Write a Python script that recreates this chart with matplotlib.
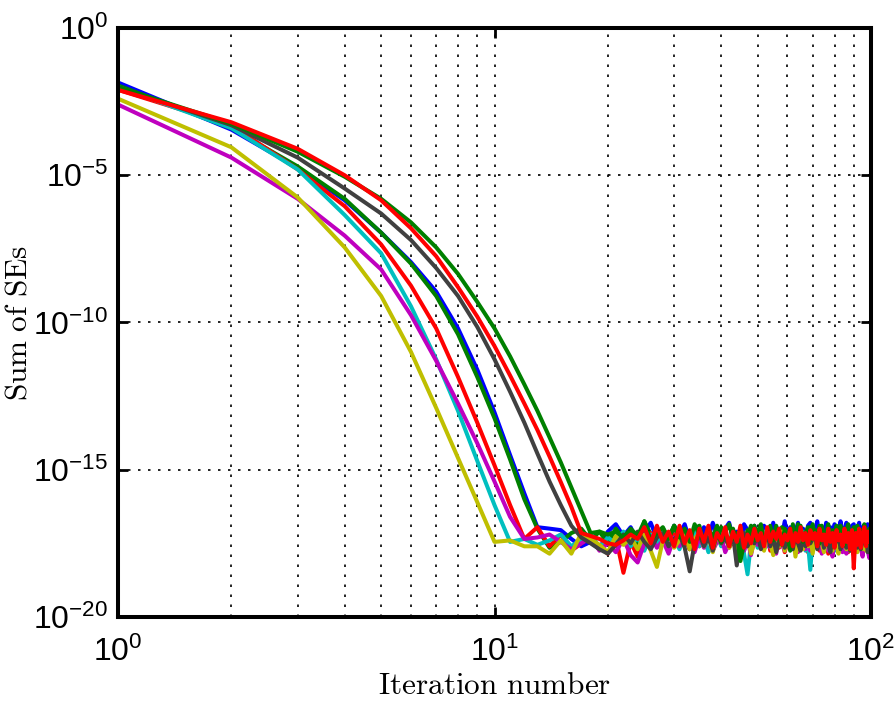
import numpy as np
import matplotlib
matplotlib.use('Agg')
import matplotlib.pyplot as plt
from matplotlib.ticker import FixedLocator, NullLocator, NullFormatter

plt.rcParams['font.family'] = ['Liberation Sans', 'DejaVu Sans']
plt.rcParams['mathtext.fontset'] = 'custom'
plt.rcParams['mathtext.rm'] = 'Liberation Sans'
plt.rcParams['mathtext.it'] = 'Liberation Sans:italic'

iterations = np.arange(1, 101)

# log10(sum of SEs) per iteration, ten iterations per row
blue = [-1.85, -3.45, -4.75, -5.85, -6.95, -7.95, -8.95, -10.2, -11.6, -13.05,
        -14.5, -15.8, -16.95, -17.0, -17.05, -17.35, -17.6, -17.45, -17.7, -17.1,
        -16.85, -17.25, -16.95, -17.45, -17.1, -16.8, -17.35, -17.0, -17.5, -16.9,
        -17.2, -16.85, -17.4, -17.05, -17.55, -16.95, -17.3, -16.8, -17.2, -17.45,
        -17.0, -16.8, -17.35, -17.1, -17.55, -16.85, -17.05, -17.4, -16.9, -17.25,
        -17.6, -16.9, -17.15, -17.35, -16.8, -17.45, -17.0, -17.25, -16.75, -17.3,
        -16.95, -17.5, -17.1, -16.8, -17.4, -17.0, -17.65, -16.9, -16.8, -17.35,
        -17.1, -16.75, -17.45, -17.0, -17.25, -16.8, -17.4, -16.95, -17.55, -16.85,
        -17.15, -17.35, -16.75, -17.45, -17.0, -16.8, -17.25, -17.5, -16.9, -16.85,
        -17.3, -17.05, -16.8, -17.4, -16.95, -17.6, -17.1, -16.85, -17.35, -17.0]

green2 = [-1.95, -3.4, -4.7, -5.8, -6.95, -8.0, -9.1, -10.4, -11.85, -13.25,
          -14.65, -16.0, -17.0, -17.65, -17.45, -17.15, -17.0, -17.4, -17.1, -17.5,
          -17.0, -17.35, -17.1, -17.6, -16.75, -17.2, -17.5, -17.0, -17.3, -16.9,
          -17.45, -17.15, -17.7, -17.0, -16.9, -17.5, -17.1, -17.6, -17.25, -16.95,
          -17.3, -17.6, -17.0, -17.45, -17.15, -17.75, -17.05, -17.4, -16.9, -17.35,
          -17.1, -17.65, -17.2, -16.9, -17.5, -17.05, -17.55, -16.95, -17.4, -17.2,
          -17.7, -17.0, -17.45, -16.85, -17.4, -17.1, -17.65, -17.2, -16.95, -17.5,
          -17.05, -17.55, -16.9, -17.4, -17.15, -17.7, -17.0, -17.45, -17.1, -17.3,
          -16.9, -17.6, -17.2, -17.45, -17.0, -17.35, -17.1, -17.7, -17.2, -17.5,
          -16.95, -17.4, -17.15, -17.65, -17.25, -16.9, -17.5, -17.1, -17.6, -17.3]

red2 = [-2.1, -3.3, -4.8, -6.05, -7.35, -8.75, -10.2, -11.85, -13.4, -14.85,
        -16.2, -17.35, -16.95, -17.6, -17.2, -17.75, -17.5, -17.3, -17.6, -17.85,
        -17.3, -18.5, -17.45, -17.95, -17.3, -17.15, -17.6, -17.35, -17.75, -17.2,
        -17.55, -17.3, -17.7, -17.2, -17.6, -17.4, -17.15, -17.75, -17.3, -17.55,
        -17.2, -17.65, -17.4, -17.8, -17.25, -17.55, -17.2, -17.7, -17.35, -17.6,
        -17.25, -17.55, -17.15, -17.75, -17.4, -17.2, -17.65, -17.3, -17.8, -17.45,
        -17.2, -17.6, -17.35, -17.7, -17.25, -17.5, -17.15, -17.8, -17.35, -17.6,
        -17.25, -17.55, -17.75, -17.2, -17.6, -17.35, -17.85, -17.3, -17.55, -17.2,
        -17.6, -17.35, -17.75, -17.25, -17.5, -17.2, -17.8, -17.4, -17.65, -17.3,
        -17.55, -17.75, -17.2, -17.6, -17.4, -17.25, -17.7, -17.5, -17.2, -17.6]

cyan = [-2.0, -3.4, -4.8, -6.35, -7.65, -9.45, -11.25, -13.0, -14.7, -16.2,
        -17.45, -17.35, -17.55, -17.4, -17.2, -17.6, -17.35, -17.15, -17.65, -17.3,
        -17.5, -17.1, -17.6, -17.3, -17.75, -17.2, -17.5, -17.1, -17.65, -17.35,
        -17.7, -17.2, -17.5, -17.05, -17.6, -17.3, -17.8, -17.4, -17.15, -17.6,
        -17.2, -17.55, -17.3, -17.7, -17.15, -17.85, -18.55, -17.45, -17.2, -17.65,
        -17.4, -17.1, -17.6, -17.3, -17.5, -17.75, -17.2, -17.6, -17.05, -17.5,
        -17.3, -17.7, -17.15, -17.6, -17.4, -17.1, -17.75, -17.5, -18.4, -17.3,
        -17.6, -17.2, -17.5, -17.05, -17.7, -17.4, -17.2, -17.65, -17.3, -17.75,
        -17.45, -17.1, -17.6, -17.3, -17.55, -17.15, -17.7, -17.4, -17.1, -17.6,
        -17.3, -17.55, -17.15, -17.7, -17.45, -17.05, -17.6, -17.3, -17.55, -17.2]

magenta = [-2.6, -4.4, -5.8, -7.05, -8.2, -9.75, -11.3, -12.75, -14.1, -15.4,
           -16.6, -17.35, -17.3, -17.2, -17.45, -17.7, -17.5, -17.3, -17.75, -17.5,
           -17.8, -17.35, -17.9, -18.15, -17.5, -17.25, -17.65, -17.4, -17.85, -17.3,
           -17.6, -17.25, -17.55, -17.8, -17.3, -17.65, -17.2, -17.75, -17.45, -17.25,
           -17.8, -17.5, -17.3, -17.7, -17.25, -17.75, -17.4, -17.9, -17.35, -17.55,
           -17.25, -17.7, -17.45, -17.65, -17.3, -17.85, -17.25, -17.55, -17.75, -17.35,
           -17.65, -17.4, -17.25, -17.8, -17.5, -17.3, -17.7, -17.2, -17.75, -17.45,
           -17.3, -17.65, -17.25, -17.85, -17.5, -17.35, -17.75, -17.4, -17.95, -17.5,
           -17.25, -17.65, -17.4, -17.8, -17.3, -17.85, -17.5, -17.25, -17.7, -17.9,
           -17.4, -17.75, -17.3, -17.65, -17.95, -17.45, -17.35, -17.75, -18.0, -17.6]

yellow = [-2.4, -4.05, -5.75, -7.45, -9.1, -11.0, -12.9, -14.6, -16.1, -17.45,
          -17.4, -17.6, -17.6, -17.85, -17.4, -17.85, -17.15, -17.35, -17.55, -17.8,
          -17.25, -17.55, -17.3, -17.7, -17.2, -17.75, -18.3, -17.4, -17.2, -17.65,
          -17.4, -17.1, -17.7, -17.35, -17.15, -17.6, -17.3, -17.8, -17.2, -17.5,
          -17.1, -17.65, -17.35, -17.75, -17.2, -17.55, -17.3, -17.85, -17.45, -17.15,
          -17.55, -17.75, -17.2, -17.5, -17.9, -17.3, -17.6, -17.1, -17.75, -17.35,
          -17.65, -17.2, -17.95, -17.45, -17.3, -17.7, -17.15, -17.6, -17.35, -17.85,
          -17.3, -17.65, -17.2, -17.5, -17.8, -17.35, -17.15, -17.6, -17.75, -17.3,
          -17.5, -17.85, -17.2, -17.6, -17.35, -17.7, -17.2, -17.75, -17.45, -17.3,
          -17.6, -17.8, -17.2, -17.5, -17.7, -17.3, -17.75, -17.35, -17.6, -17.45]

gray = [-2.0, -3.3, -4.4, -5.45, -6.3, -7.2, -8.15, -9.1, -10.15, -11.25,
        -12.35, -13.4, -14.45, -15.4, -16.2, -16.9, -17.3, -17.5, -17.7, -17.85,
        -17.55, -17.2, -17.5, -17.1, -17.45, -17.7, -17.3, -17.15, -17.6, -17.35,
        -17.2, -17.65, -18.45, -17.5, -17.2, -17.6, -17.3, -17.75, -17.15, -17.5,
        -17.3, -17.6, -17.2, -18.25, -17.4, -17.15, -17.6, -17.3, -17.5, -17.2,
        -17.7, -17.35, -17.2, -17.6, -17.3, -17.8, -17.4, -17.2, -17.65, -17.45,
        -17.3, -17.7, -17.2, -17.5, -17.75, -17.3, -17.6, -17.15, -17.5, -17.35,
        -17.2, -17.7, -17.4, -17.25, -17.65, -17.2, -17.5, -17.8, -17.3, -17.6,
        -17.35, -17.2, -17.7, -17.45, -17.25, -17.65, -17.2, -17.75, -17.4, -17.5,
        -17.3, -17.65, -17.2, -17.7, -17.35, -17.5, -17.2, -17.8, -17.45, -17.9]

green1 = [-2.0, -3.25, -4.2, -5.05, -5.8, -6.6, -7.45, -8.35, -9.3, -10.2,
          -11.15, -12.1, -13.0, -13.9, -14.75, -15.6, -16.4, -17.15, -17.1, -17.2,
          -17.1, -17.3, -17.0, -17.25, -16.75, -17.4, -17.15, -16.95, -17.35, -16.9,
          -17.3, -17.0, -17.45, -16.85, -17.2, -17.4, -17.0, -17.3, -16.9, -17.45,
          -17.1, -16.85, -17.35, -17.15, -18.1, -17.5, -17.25, -16.9, -17.4, -17.1,
          -16.85, -17.45, -17.2, -16.95, -17.4, -16.9, -17.3, -17.55, -17.0, -17.2,
          -17.75, -16.85, -17.35, -17.05, -16.9, -17.45, -17.15, -16.95, -17.4, -16.85,
          -17.3, -17.05, -17.5, -16.9, -17.35, -17.15, -16.85, -17.45, -17.05, -17.3,
          -16.95, -17.4, -16.9, -17.2, -17.55, -17.05, -16.85, -17.4, -17.15, -16.95,
          -17.45, -16.9, -17.3, -17.05, -17.4, -16.85, -17.2, -17.5, -17.0, -17.35]

red1 = [-2.1, -3.2, -4.1, -5.0, -5.85, -6.8, -7.75, -8.8, -9.8, -10.8,
        -11.8, -12.75, -13.65, -14.55, -15.42, -16.26, -17.15, -17.25, -17.35, -17.5,
        -17.55, -17.4, -17.2, -17.35, -16.95, -17.5, -16.9, -17.45, -17.1, -17.6,
        -16.9, -17.5, -17.05, -17.7, -17.0, -17.45, -16.9, -17.65, -17.15, -17.4,
        -16.95, -17.6, -17.1, -17.45, -16.9, -17.65, -17.2, -17.5, -17.0, -17.4,
        -17.15, -17.6, -16.95, -17.45, -17.1, -17.35, -17.0, -17.55, -17.2, -17.4,
        -17.0, -17.6, -17.15, -17.45, -16.95, -17.4, -17.15, -17.55, -17.05, -17.35,
        -17.15, -17.6, -17.0, -17.4, -17.2, -17.55, -17.0, -17.45, -17.15, -17.65,
        -17.05, -17.4, -17.2, -17.6, -17.0, -17.45, -17.15, -17.7, -17.05, -18.35,
        -17.15, -17.55, -17.0, -17.65, -17.25, -16.95, -17.6, -17.1, -17.45, -17.05]

series = [blue, green2, red2, cyan, magenta, yellow, gray, green1, red1]
colors = [(0, 0, 1), (0, 0.5, 0), (1, 0, 0), (0, 0.75, 0.75), (0.75, 0, 0.75),
          (0.75, 0.75, 0), (0.25, 0.25, 0.25), (0, 0.5, 0), (1, 0, 0)]

fig = plt.figure(figsize=(8.96, 7.02), dpi=100)
ax = fig.add_axes([0.1317, 0.1211, 0.8404, 0.839])

for vals, col in zip(series, colors):
    ax.plot(iterations, 10.0 ** np.array(vals), color=col, lw=2.9)

ax.set_xscale('log')
ax.set_yscale('log')
ax.set_xlim(1, 100)
ax.set_ylim(1e-20, 1)

ax.xaxis.set_major_locator(FixedLocator([1, 10, 100]))
ax.xaxis.set_minor_locator(FixedLocator([2, 3, 4, 5, 6, 7, 8, 9, 20, 30, 40, 50, 60, 70, 80, 90]))
ax.xaxis.set_minor_formatter(NullFormatter())
ax.set_xticklabels([r'$10^{0}$', r'$10^{1}$', r'$10^{2}$'])
ax.yaxis.set_major_locator(FixedLocator([1e-20, 1e-15, 1e-10, 1e-5, 1]))
ax.yaxis.set_minor_locator(NullLocator())
ax.set_yticklabels([r'$10^{-20}$', r'$10^{-15}$', r'$10^{-10}$', r'$10^{-5}$', r'$10^{0}$'])

ax.tick_params(which='major', direction='in', length=7, width=2, labelsize=23,
               top=True, right=True)
ax.tick_params(axis='x', which='major', pad=14)
ax.tick_params(axis='y', which='major', pad=7)
ax.tick_params(which='minor', direction='in', length=0, top=True, right=True)

dots = (0, (1.5, 4.5))
ax.grid(True, which='major', linestyle=dots, color='k', lw=1.2)
ax.grid(True, which='minor', axis='x', linestyle=dots, color='k', lw=1.2)
ax.set_axisbelow(True)

for sp in ax.spines.values():
    sp.set_linewidth(2.9)

ax.set_xlabel(r'$\mathrm{Iteration\ number}$', math_fontfamily='cm', fontsize=22.5, labelpad=2)
ax.set_ylabel(r'$\mathrm{Sum\ of\ SEs}$', math_fontfamily='cm', fontsize=22.5, labelpad=0)

fig.savefig('out.png', dpi=100)
